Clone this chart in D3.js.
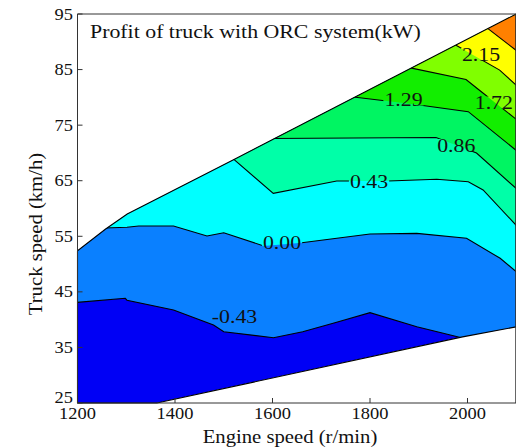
<!DOCTYPE html>
<html>
<head>
<meta charset="utf-8">
<script src="https://cdn.jsdelivr.net/npm/d3@7"></script>
<style>
  body { margin: 0; background: #fff; }
  text { font-family: "Liberation Serif", "Times New Roman", serif; fill: #111; }
</style>
</head>
<body>
<svg width="516" height="447"></svg>
<script>
// contour levels and fill colour of each band (band i lies between level i-1 and level i)
const levels = [-0.43, 0.00, 0.43, 0.86, 1.29, 1.72, 2.15, 2.58];
const bandColors = ["#0000f5", "#0a80ff", "#00ffff", "#00ffa8", "#00f562", "#12ee00", "#80ff00", "#ffff00", "#ff8000"];
const xTicks = [1200, 1400, 1600, 1800, 2000];
const yTicks = [25, 35, 45, 55, 65, 75, 85, 95];

// operating region of the truck [engine speed, truck speed]
const upperEdge = [[1200, 52.4], [1257, 56.26], [1302, 59.0], [1518, 68.7], [2100, 95]];
const lowerEdge = [[1363, 25], [1990, 36.9], [2100, 38.7]];

// contour lines, one per level
const lineM043 = [[1192, 43.05], [1298, 43.84], [1301.5, 43.5], [1397, 41.73], [1479, 39.03], [1500, 37.83], [1602, 36.75], [1662, 37.83], [1728, 39.45], [1800, 41.25], [1896, 38.73], [1994, 36.6]];
const line000 = [[1255, 56.5], [1301.5, 56.62], [1325.5, 56.85], [1397, 56.85], [1465.6, 55.05], [1500, 55.64], [1582, 53.25], [1660, 53.84], [1800, 55.41], [1896, 55.53], [1998, 54.64], [2067, 51.04], [2105, 48.26]];
const line043 = [[1516, 69.2], [1601.6, 62.73], [1731.7, 64.95], [1837.5, 64.95], [1937, 65.25], [2001.6, 64.82], [2032, 63.33], [2105, 56.5]];
const line086 = [[1595, 72.6], [1935.4, 72.78], [2018.5, 69.99], [2105, 63.2]];
const line129 = [[1762, 80.1], [1889.8, 78.75], [2001.6, 77.42], [2105, 70.1]];
const line172 = [[1878, 85.4], [1997, 83.2], [2020, 81.6], [2105, 75.7]];
const line215 = [[1972, 89.6], [2066, 84.9], [2105, 81.8]];
const line258 = [[2040, 92.5], [2105, 88.1]];
const contourLines = [lineM043, line000, line043, line086, line129, line172, line215, line258];

// inline labels [text, engine speed, truck speed]
const labels = [
  ["-0.43", 1522, 40.56],
  ["0.00", 1619.5, 53.88],
  ["0.43", 1798, 64.95],
  ["0.86", 1977, 71.43],
  ["1.29", 1868.7, 79.61],
  ["1.72", 2054, 79.07],
  ["2.15", 2027.7, 87.8]
];

const svg = d3.select("svg");
const x = d3.scaleLinear().domain([1200, 2100]).range([77.5, 516.25]);
const y = d3.scaleLinear().domain([25, 95]).range([403, 14]);
const line = d3.line().x(d => x(d[0])).y(d => y(d[1]));
const sx = 1.15; // the source figure is a little wider than tall

const region = [[1200, 25], ...lowerEdge, ...upperEdge.slice().reverse()];

const defs = svg.append("defs");
defs.append("clipPath").attr("id", "dom")
  .append("path").attr("d", line(region) + "Z");

// bands: everything above each contour, painted in order and clipped to the region
const fills = svg.append("g").attr("clip-path", "url(#dom)");
fills.append("path").attr("d", line(region) + "Z").attr("fill", bandColors[0]);
contourLines.forEach((pts, i) => {
  const first = pts[0], last = pts[pts.length - 1];
  const ring = [...pts, [2400, last[1]], [2400, 300], [900, 300], [900, first[1]]];
  fills.append("path").attr("d", line(ring) + "Z").attr("fill", bandColors[i + 1]);
});

// labels (measured first so the lines can be cut under them)
const labelG = svg.append("g");
const labelNodes = labelG.selectAll("text").data(labels).enter().append("text")
  .attr("transform", d => `translate(${x(d[1])},${y(d[2])}) scale(${sx},1)`)
  .attr("text-anchor", "middle")
  .attr("dy", "0.35em")
  .style("font-size", "19px")
  .text(d => d[0]);

const mask = defs.append("mask").attr("id", "cut");
mask.append("rect").attr("width", 516).attr("height", 447).attr("fill", "#fff");
labelNodes.each(function(d) {
  const b = this.getBBox();
  const w = b.width * sx;
  mask.append("rect")
    .attr("x", x(d[1]) - w / 2 - 1).attr("y", y(d[2]) - 6)
    .attr("width", w + 2).attr("height", 12)
    .attr("fill", "#000");
});

const strokes = svg.insert("g", () => labelG.node()).attr("clip-path", "url(#dom)");
strokes.append("g").attr("mask", "url(#cut)")
  .selectAll("path").data(contourLines).enter().append("path")
  .attr("d", line)
  .attr("fill", "none")
  .attr("stroke", "#000")
  .attr("stroke-width", 1.1);

// region outline
svg.insert("path", () => labelG.node())
  .attr("d", line(region) + "Z")
  .attr("fill", "none")
  .attr("stroke", "#000")
  .attr("stroke-width", 1.1);

// frame
const frame = svg.append("g").attr("stroke", "#333").attr("stroke-width", 1);
frame.append("line").attr("x1", x(1200)).attr("x2", x(1200)).attr("y1", y(95)).attr("y2", y(25));
frame.append("line").attr("x1", x(1200)).attr("x2", x(2100)).attr("y1", y(25)).attr("y2", y(25));
frame.append("line").attr("x1", x(1200)).attr("x2", x(2100)).attr("y1", y(95)).attr("y2", y(95));
frame.append("line").attr("x1", x(2100) - 0.5).attr("x2", x(2100) - 0.5).attr("y1", y(95)).attr("y2", y(25));

frame.selectAll(".xt").data(xTicks).enter().append("line")
  .attr("x1", d => x(d)).attr("x2", d => x(d))
  .attr("y1", y(25)).attr("y2", y(25) - 5);
frame.selectAll(".yt").data(yTicks).enter().append("line")
  .attr("x1", x(1200)).attr("x2", x(1200) + 5)
  .attr("y1", d => y(d)).attr("y2", d => y(d));

// tick labels
svg.append("g").selectAll("text").data(xTicks).enter().append("text")
  .attr("transform", d => `translate(${x(d)},419) scale(${sx},1)`)
  .attr("text-anchor", "middle")
  .style("font-size", "16px")
  .text(d => d);
svg.append("g").selectAll("text").data(yTicks).enter().append("text")
  .attr("transform", d => `translate(73,${Math.min(y(d), y(25) - 6)}) scale(${sx},1)`)
  .attr("text-anchor", "end")
  .attr("dy", "0.35em")
  .style("font-size", "16px")
  .text(d => d);

// titles
svg.append("text")
  .attr("transform", `translate(90,38) scale(${sx},1)`)
  .style("font-size", "19px")
  .text("Profit of truck with ORC system(kW)");
svg.append("text")
  .attr("transform", `translate(290,443) scale(${sx},1)`)
  .attr("text-anchor", "middle")
  .style("font-size", "18px")
  .text("Engine speed (r/min)");
svg.append("text")
  .attr("transform", `translate(42,234) rotate(-90) scale(${sx},1)`)
  .attr("text-anchor", "middle")
  .style("font-size", "18px")
  .text("Truck speed (km/h)");
</script>
</body>
</html>
